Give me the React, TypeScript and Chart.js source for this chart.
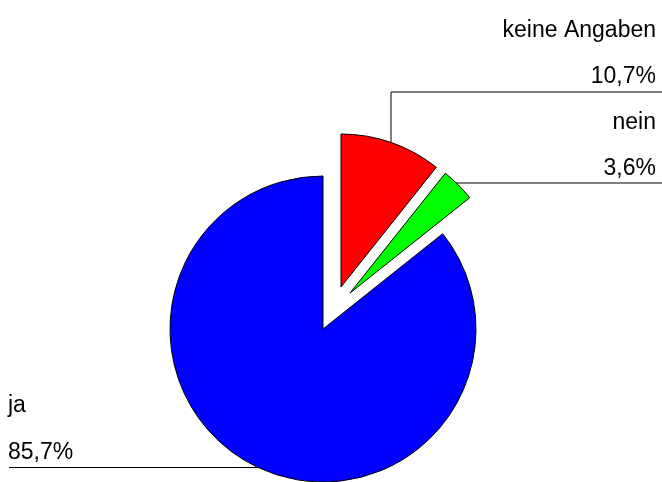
import React, { useEffect, useRef } from "react";
import { Chart, registerables } from "chart.js";

Chart.register(...registerables);

const categories = ["keine Angaben", "nein", "ja"];
const percentValues = [10.7, 3.6, 85.7];
const sliceColors = ["#ff0000", "#00ff00", "#0000ff"];
// explode displacement of each slice (dx, dy in px)
const explodeDx = [18, 27, 0];
const explodeDy = [-42, -36, 0];

const fmt = (v: number) => v.toFixed(1).replace(".", ",") + "%";

const FONT = "23px 'Liberation Sans', Arial, sans-serif";

const explodePlugin = {
  id: "explode",
  afterDatasetUpdate(chart: any, args: any) {
    const meta = chart.getDatasetMeta(args.index);
    meta.data.forEach((arc: any, i: number) => {
      arc.x = arc.x + (explodeDx[i] || 0);
      arc.y = arc.y + (explodeDy[i] || 0);
    });
  },
};

const leaderPlugin = {
  id: "leaders",
  beforeDatasetsDraw(chart: any) {
    const ctx = chart.ctx;
    ctx.save();
    ctx.lineWidth = 1;
    ctx.strokeStyle = "#000";
    // keine Angaben
    ctx.beginPath();
    ctx.moveTo(662, 92);
    ctx.lineTo(391, 92);
    ctx.lineTo(391, 146);
    ctx.stroke();
    // nein
    ctx.beginPath();
    ctx.moveTo(662, 183);
    ctx.lineTo(452, 183);
    ctx.stroke();
    // ja
    ctx.beginPath();
    ctx.moveTo(9, 467.5);
    ctx.lineTo(262, 467.5);
    ctx.stroke();
    ctx.restore();
  },
  afterDraw(chart: any) {
    const ctx = chart.ctx;
    ctx.save();
    ctx.font = FONT;
    ctx.fillStyle = "#000";
    ctx.textBaseline = "alphabetic";
    ctx.textAlign = "right";
    ctx.fillText(categories[0], 656, 37);
    ctx.fillText(fmt(percentValues[0]), 656, 83);
    ctx.fillText(categories[1], 656, 129);
    ctx.fillText(fmt(percentValues[1]), 656, 175);
    ctx.textAlign = "left";
    ctx.fillText(categories[2], 8, 412);
    ctx.fillText(fmt(percentValues[2]), 8, 459);
    ctx.restore();
  },
};

export default function App() {
  const ref = useRef<HTMLCanvasElement>(null);
  useEffect(() => {
    document.body.style.margin = "0";
    const chart = new Chart(ref.current!, {
      type: "pie",
      data: {
        labels: categories,
        datasets: [
          {
            data: percentValues,
            backgroundColor: sliceColors,
            borderColor: "#000",
            borderWidth: 1,
            offset: 0,
            hoverOffset: 0,
          } as any,
        ],
      },
      options: {
        animation: false,
        responsive: false,
        radius: 153,
        layout: { padding: { left: 0, right: 16, top: 176, bottom: 0 } },
        plugins: { legend: { display: false }, tooltip: { enabled: false } },
      } as any,
      plugins: [explodePlugin, leaderPlugin],
    });
    return () => chart.destroy();
  }, []);
  return (
    <div style={{ width: 662, height: 482 }}>
      <canvas ref={ref} width={662} height={482} />
    </div>
  );
}
